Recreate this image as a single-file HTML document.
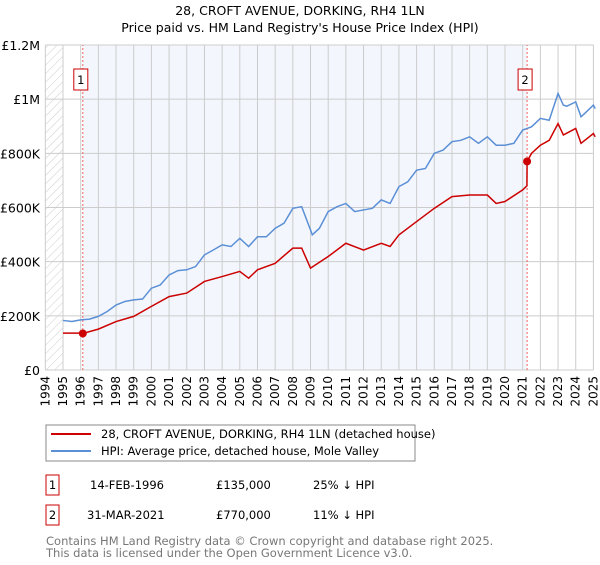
<!DOCTYPE html>
<html><head><meta charset="utf-8"><style>
body{margin:0;background:#fff;font-family:"Liberation Sans","DejaVu Sans",sans-serif;}
svg text{font-family:"DejaVu Sans","Liberation Sans",sans-serif;}
</style></head><body>
<svg width="600" height="560" viewBox="0 0 600 560" xmlns="http://www.w3.org/2000/svg">
<defs><pattern id="hatch" width="6" height="6" patternUnits="userSpaceOnUse" patternTransform="rotate(45)"><line x1="0" y1="0" x2="0" y2="6" stroke="#ccc" stroke-width="1"/></pattern></defs>
<text x="300" y="15" text-anchor="middle" font-size="12.5">28, CROFT AVENUE, DORKING, RH4 1LN</text>
<text x="300" y="32" text-anchor="middle" font-size="12.5">Price paid vs. HM Land Registry's House Price Index (HPI)</text>
<g id="plot"></g>
<rect x="46" y="425" width="369" height="36" fill="#fff" stroke="#888"/>
<line x1="51" y1="434" x2="91" y2="434" stroke="#cc0000" stroke-width="2"/>
<text x="101" y="438" font-size="11.5">28, CROFT AVENUE, DORKING, RH4 1LN (detached house)</text>
<line x1="51" y1="451" x2="91" y2="451" stroke="#5b8fd6" stroke-width="2"/>
<text x="101" y="455" font-size="11.5">HPI: Average price, detached house, Mole Valley</text>
<g>
<rect x="46" y="475" width="13" height="20" fill="none" stroke="#cc0000"/>
<text x="52.5" y="489" text-anchor="middle" font-size="11.5">1</text>
<text x="90" y="489" font-size="11.5">14-FEB-1996</text>
<text x="216" y="489" font-size="11.5">£135,000</text>
<text x="313" y="489" font-size="11.5">25% ↓ HPI</text></g>
<g>
<rect x="46" y="505" width="13" height="20" fill="none" stroke="#cc0000"/>
<text x="52.5" y="519" text-anchor="middle" font-size="11.5">2</text>
<text x="87" y="519" font-size="11.5">31-MAR-2021</text>
<text x="216" y="519" font-size="11.5">£770,000</text>
<text x="313" y="519" font-size="11.5">11% ↓ HPI</text></g>
<text x="46" y="545" font-size="11.5" fill="#777">Contains HM Land Registry data © Crown copyright and database right 2025.</text>
<text x="46" y="557" font-size="11.5" fill="#777">This data is licensed under the Open Government Licence v3.0.</text>
</svg>
<script>
const hpiYears=[1995,1995.5,1996,1996.5,1997,1997.5,1998,1998.5,1999,1999.5,2000,2000.5,2001,2001.5,2002,2002.5,2003,2003.5,2004,2004.5,2005,2005.5,2006,2006.5,2007,2007.5,2008,2008.5,2009,2009.1,2009.5,2010,2010.5,2011,2011.5,2012,2012.5,2013,2013.5,2014,2014.5,2015,2015.5,2016,2016.5,2017,2017.5,2018,2018.5,2019,2019.5,2020,2020.5,2021,2021.5,2022,2022.5,2023,2023.3,2023.5,2024,2024.3,2024.5,2025,2025.1];
const hpiValues=[183,179,185,188,198,216,240,253,259,262,302,314,351,367,370,382,425,443,462,456,486,456,492,492,523,542,597,603,517,499,523,585,603,615,585,591,597,628,615,677,695,738,744,800,812,843,848,861,837,861,830,830,837,886,898,929,922,1021,978,974,990,935,947,978,965];
const priceYears=[1995,1996,1996.12,1997,1998,1999,2000,2001,2002,2003,2004,2005,2005.5,2006,2007,2008,2008.5,2009,2010,2011,2012,2013,2013.5,2014,2015,2016,2017,2018,2019,2019.5,2020,2021,2021.24,2021.25,2021.5,2022,2022.5,2023,2023.3,2024,2024.3,2025,2025.1];
const priceValues=[136,136,135,151,179,198,235,271,284,327,345,364,339,370,394,450,450,376,419,468,443,468,456,499,548,597,640,646,646,615,622,665,680,770,800,830,848,910,868,892,837,873,861];
const saleYears=[1996.12,2021.25];
const saleValues=[135,770];
const yTicks=[0,200,400,600,800,1000,1200];
const yTickLabels=["£0","£200K","£400K","£600K","£800K","£1M","£1.2M"];
const xTicks=[1994,1995,1996,1997,1998,1999,2000,2001,2002,2003,2004,2005,2006,2007,2008,2009,2010,2011,2012,2013,2014,2015,2016,2017,2018,2019,2020,2021,2022,2023,2024,2025];
const NS="http://www.w3.org/2000/svg";
const X=y=>63+(y-1995)*17.68, Y=v=>370-v/1200*325;
const g=document.getElementById('plot');
function mk(t,a){const e=document.createElementNS(NS,t);for(const k in a)e.setAttribute(k,a[k]);g.appendChild(e);return e;}
let e;
e=mk('rect',{x:X(saleYears[0]),y:Y(1200),width:X(saleYears[1])-X(saleYears[0]),height:325,fill:'#f3f7fd'});


e=mk('rect',{x:X(1994),y:Y(1200),width:X(1995)-X(1994),height:325,fill:'url(#hatch)'});


xTicks.forEach(t=>{e=mk('line',{x1:X(t),x2:X(t),y1:Y(0),y2:Y(1200),stroke:'#ccc'});


e=mk('text',{x:0,y:0,'font-size':12,'text-anchor':'end',transform:`translate(${X(t)+4},376) rotate(-90)`});e.textContent=t;

});
yTicks.forEach((t,i)=>{e=mk('line',{x1:X(1994),x2:X(2025),y1:Y(t),y2:Y(t),stroke:'#ccc'});


e=mk('text',{x:40,y:Y(t)+5,'font-size':12.5,'text-anchor':'end'});e.textContent=yTickLabels[i];

});
saleYears.forEach((s,i)=>{e=mk('line',{x1:X(s),x2:X(s),y1:Y(0),y2:Y(1200),stroke:'#f06060','stroke-dasharray':'2,2'});


e=mk('rect',{x:X(s)-9,y:69,width:14,height:21,fill:'#fff',stroke:'#cc0000'});


e=mk('text',{x:X(s)-2,y:84,'font-size':11.5,'text-anchor':'middle'});e.textContent=i+1;

});
e=mk('polyline',{points:hpiYears.map((y,i)=>X(y)+','+Y(hpiValues[i])).join(' '),fill:'none',stroke:'#5b8fd6','stroke-width':1.5});


e=mk('polyline',{points:priceYears.map((y,i)=>X(y)+','+Y(priceValues[i])).join(' '),fill:'none',stroke:'#cc0000','stroke-width':1.5});


saleYears.forEach((s,i)=>{e=mk('circle',{cx:X(s),cy:Y(saleValues[i]),r:4,fill:'#cc0000'});

});
</script>
</body></html>
